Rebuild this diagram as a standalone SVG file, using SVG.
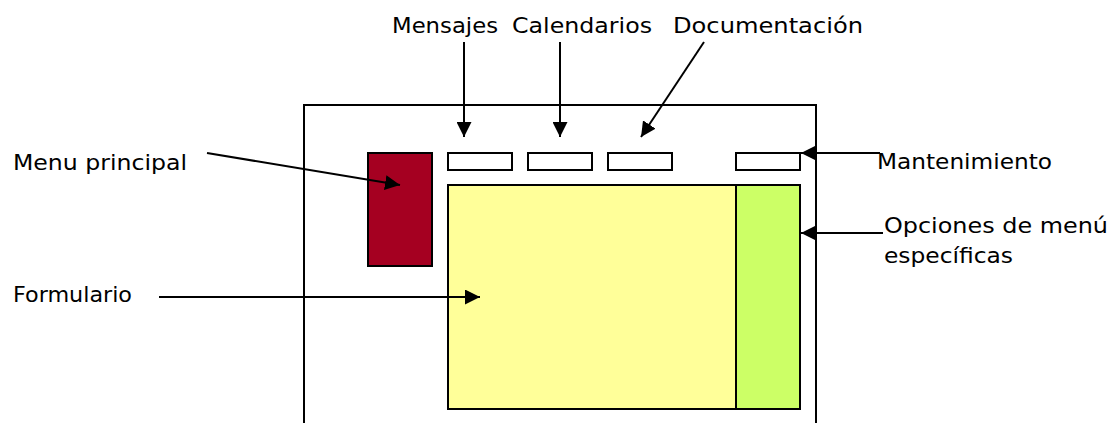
<svg xmlns="http://www.w3.org/2000/svg" width="1114" height="423" viewBox="0 0 1114 423">
<style>
.lbl{font-family:"DejaVu Sans","Liberation Sans",sans-serif;font-size:21px;fill:#000}
.box{stroke:#000;stroke-width:2}
.con{stroke:#000;stroke-width:2;fill:none;marker-end:url(#ah)}
</style>
<defs>
<marker id="ah" markerUnits="userSpaceOnUse" viewBox="0 0 15 15" markerWidth="15" markerHeight="15" refX="15" refY="7.5" orient="auto">
<path d="M0,0 L15,7.5 L0,15 z" fill="#000"/>
</marker>
</defs>
<rect width="1114" height="423" fill="#fff"/>
<g id="frame"><path d="M304,423 V105 H816 V423" fill="none" stroke="#000" stroke-width="2"/></g>
<g id="menu-principal-box"><rect class="box" x="368" y="153" width="64" height="113" fill="#A50021"/></g>
<g id="btn-mensajes"><rect class="box" x="448" y="153" width="64" height="17" fill="#fff"/></g>
<g id="btn-calendarios"><rect class="box" x="528" y="153" width="64" height="17" fill="#fff"/></g>
<g id="btn-documentacion"><rect class="box" x="608" y="153" width="64" height="17" fill="#fff"/></g>
<g id="btn-mantenimiento"><rect class="box" x="736" y="153" width="64" height="17" fill="#fff"/></g>
<g id="formulario-box"><rect class="box" x="448" y="185" width="288" height="224" fill="#FFFF99"/></g>
<g id="opciones-box"><rect class="box" x="736" y="185" width="64" height="224" fill="#CCFF66"/></g>
<g id="labels">
<text class="lbl" x="392" y="33" textLength="106" lengthAdjust="spacingAndGlyphs">Mensajes</text>
<text class="lbl" x="512" y="33" textLength="140" lengthAdjust="spacingAndGlyphs">Calendarios</text>
<text class="lbl" x="673" y="33" textLength="190" lengthAdjust="spacingAndGlyphs">Documentación</text>
<text class="lbl" x="877" y="169" textLength="175" lengthAdjust="spacingAndGlyphs">Mantenimiento</text>
<text class="lbl" x="884" y="233" textLength="224" lengthAdjust="spacingAndGlyphs">Opciones de menú</text>
<text class="lbl" x="884" y="263" textLength="129" lengthAdjust="spacingAndGlyphs">específicas</text>
<text class="lbl" x="13" y="170" textLength="174" lengthAdjust="spacingAndGlyphs">Menu principal</text>
<text class="lbl" x="13" y="302" textLength="119" lengthAdjust="spacingAndGlyphs">Formulario</text>
</g>
<g id="connectors">
<line class="con" x1="464" y1="42" x2="464" y2="137"/>
<line class="con" x1="560" y1="42" x2="560" y2="137"/>
<line class="con" x1="704" y1="42" x2="641" y2="137"/>
<line class="con" x1="880" y1="153" x2="801" y2="153"/>
<line class="con" x1="883" y1="233" x2="801" y2="233"/>
<line class="con" x1="207" y1="153" x2="400" y2="185"/>
<line class="con" x1="159" y1="297" x2="480" y2="297"/>
</g>
</svg>
